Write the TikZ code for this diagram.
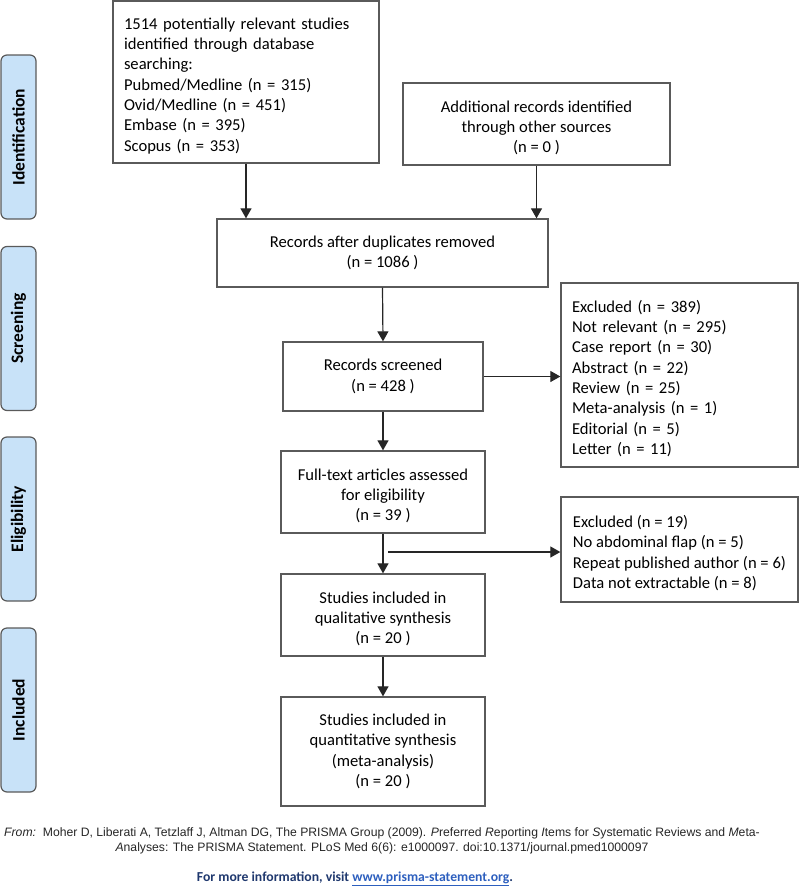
\documentclass[tikz,border=0pt]{standalone}
\usepackage{fontspec}
\setmainfont{Carlito}
\newfontfamily\arialfont{Liberation Sans}
\usetikzlibrary{arrows.meta}
\definecolor{lblue}{RGB}{200,226,248}
\definecolor{bordergray}{RGB}{90,90,90}
\definecolor{navy}{RGB}{31,56,110}
\definecolor{linkblue}{RGB}{45,95,190}
\newcommand{\tg}{\rule{0pt}{19pt}}
\begin{document}
\begin{tikzpicture}[x=1pt,y=-1pt,
  box/.style={draw=bordergray, line width=1.3pt, inner sep=0pt, fill=white,
    font=\fontsize{16.6}{20.3}\selectfont},
  phase/.style={draw=bordergray, line width=1.2pt, fill=lblue, rounded corners=6pt,
    rotate=90, minimum width=164pt, minimum height=35pt, inner sep=0pt,
    font=\fontsize{17.5}{19}\selectfont\bfseries},
  arr/.style={draw=black!85, line width=1.2pt, -{Triangle[width=11pt,length=10pt]}}]
\useasboundingbox (0,0) rectangle (800,887);

% phase labels
\node[phase] (pid) at (18.5,137) {Identification};
\node[phase] (pscr) at (18.5,328.5) {Screening};
\node[phase] (pel) at (18.5,519) {Eligibility};
\node[phase] (pinc) at (18.5,710) {Included};

% boxes
\node[box, minimum width=266pt, minimum height=162pt, text width=244pt, align=left] (id1) at (246,82)
 {\tg 1514 potentially relevant studies\\identified through database\\searching:\\Pubmed/Medline (n = 315)\\Ovid/Medline (n = 451)\\Embase (n = 395)\\Scopus (n = 353)};
\node[box, minimum width=267pt, minimum height=82pt, align=center] (id2) at (536.5,124)
 {\tg Additional records identified\\through other sources\\(n = 0 )};
\node[box, minimum width=331pt, minimum height=68pt, align=center] (dup) at (382.5,253)
 {Records after duplicates removed\\(n = 1086 )};
\node[box, minimum width=200pt, minimum height=69pt, align=center] (scr) at (383,376.5)
 {Records screened\\(n = 428 )};
\node[box, minimum width=204pt, minimum height=82pt, align=center] (full) at (383,492)
 {\tg Full-text articles assessed\\for eligibility\\(n = 39 )};
\node[box, minimum width=204pt, minimum height=82pt, align=center] (qual) at (383,615)
 {\tg Studies included in\\qualitative synthesis\\(n = 20 )};
\node[box, minimum width=204pt, minimum height=109pt, align=center] (quant) at (383,751.5)
 {Studies included in\\quantitative synthesis\\(meta-analysis)\\(n = 20 )};
\node[box, minimum width=237pt, minimum height=184pt, text width=215pt, align=left] (ex1) at (679.5,375)
 {\tg Excluded (n = 389)\\Not relevant (n = 295)\\Case report (n = 30)\\Abstract (n = 22)\\Review (n = 25)\\Meta-analysis (n = 1)\\Editorial (n = 5)\\Letter (n = 11)};
\node[box, minimum width=237pt, minimum height=105pt, align=left] (ex2) at (679.5,549.5)
 {\tg Excluded (n = 19)\\No abdominal flap (n = 5)\\Repeat published author (n = 6)\\Data not extractable (n = 8)};

% connectors
\draw[arr] (id1.south) -- (id1.south |- dup.north);
\draw[arr] (id2.south) -- (id2.south |- dup.north);
\draw[arr] (dup.south) -- (scr.north);
\draw[arr] (scr.south) -- (full.north);
\draw[arr] (full.south) -- (qual.north);
\draw[arr] (qual.south) -- (quant.north);
\draw[arr] (scr.east) -- (scr.east -| ex1.west);
\coordinate (branch) at (388,552);
\draw[arr] (branch) -- (branch -| ex2.west);

% footer
\node[align=center, inner sep=0pt, font=\arialfont\fontsize{12.2}{15}\selectfont, text=black!85] (cite) at (382,840.5)
 {\textit{From:}\ \ Moher D, Liberati A, Tetzlaff J, Altman DG, The PRISMA Group (2009). \textit{P}referred \textit{R}eporting \textit{I}tems for \textit{S}ystematic Reviews and \textit{M}eta-\\\textit{A}nalyses: The PRISMA Statement. PLoS Med 6(6): e1000097. doi:10.1371/journal.pmed1000097};
\node[inner sep=0pt, font=\fontsize{13.7}{15}\selectfont\bfseries, text=navy] (info) at (355,879)
 {For more information, visit \textcolor{linkblue}{\underline{www.prisma-statement.org}}.};
\end{tikzpicture}
\end{document}
